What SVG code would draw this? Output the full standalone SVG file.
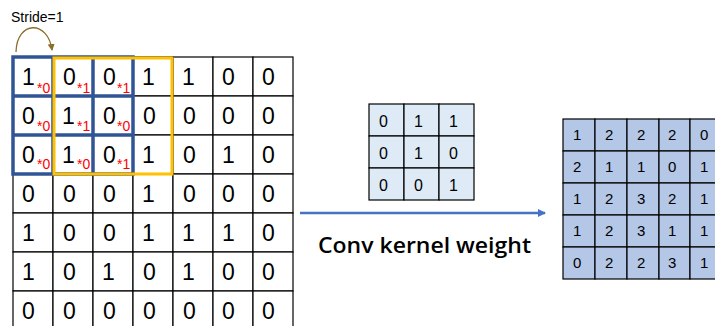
<svg xmlns="http://www.w3.org/2000/svg" width="715" height="326" viewBox="0 0 715 326">
  <style>
    .cell { fill: #ffffff; stroke: #000000; stroke-width: 1.2; }
    .kcell { fill: #deebf7; stroke: #000000; stroke-width: 1.2; }
    .ocell { fill: #b4c7e7; stroke: #000000; stroke-width: 1.2; }
    .big { font-family: "Liberation Sans", Arial, sans-serif; font-size: 23px; fill: #000000; }
    .mid { font-family: "Liberation Sans", Arial, sans-serif; font-size: 16px; fill: #000000; }
    .small { font-family: "Liberation Sans", Arial, sans-serif; font-size: 15px; fill: #000000; }
    .w { font-family: "Liberation Sans", Arial, sans-serif; font-size: 14px; fill: #ff0000; }
    .blue { fill: none; stroke: #2f5597; stroke-width: 3.5; }
    .gold { fill: none; stroke: #ffc000; stroke-width: 3; }
  </style>
  <defs>
    <marker id="arrow" markerWidth="8" markerHeight="8" refX="7" refY="4" orient="auto" markerUnits="userSpaceOnUse">
      <path d="M0,0 L8,4 L0,8 Z" fill="#4472c4"/>
    </marker>
    <marker id="arcHead" markerWidth="7" markerHeight="7" refX="6" refY="3.5" orient="auto" markerUnits="userSpaceOnUse">
      <path d="M0,0 L7,3.5 L0,7 Z" fill="#8c6d2c"/>
    </marker>
  </defs>

  <!-- Input feature map 7x7 -->
  <g id="input">
    <g>
      <rect class="cell" x="13" y="57" width="40" height="39"/><rect class="cell" x="53" y="57" width="40" height="39"/><rect class="cell" x="93" y="57" width="40" height="39"/><rect class="cell" x="133" y="57" width="40" height="39"/><rect class="cell" x="173" y="57" width="40" height="39"/><rect class="cell" x="213" y="57" width="40" height="39"/><rect class="cell" x="253" y="57" width="40" height="39"/>
      <rect class="cell" x="13" y="96" width="40" height="39"/><rect class="cell" x="53" y="96" width="40" height="39"/><rect class="cell" x="93" y="96" width="40" height="39"/><rect class="cell" x="133" y="96" width="40" height="39"/><rect class="cell" x="173" y="96" width="40" height="39"/><rect class="cell" x="213" y="96" width="40" height="39"/><rect class="cell" x="253" y="96" width="40" height="39"/>
      <rect class="cell" x="13" y="135" width="40" height="39"/><rect class="cell" x="53" y="135" width="40" height="39"/><rect class="cell" x="93" y="135" width="40" height="39"/><rect class="cell" x="133" y="135" width="40" height="39"/><rect class="cell" x="173" y="135" width="40" height="39"/><rect class="cell" x="213" y="135" width="40" height="39"/><rect class="cell" x="253" y="135" width="40" height="39"/>
      <rect class="cell" x="13" y="174" width="40" height="39"/><rect class="cell" x="53" y="174" width="40" height="39"/><rect class="cell" x="93" y="174" width="40" height="39"/><rect class="cell" x="133" y="174" width="40" height="39"/><rect class="cell" x="173" y="174" width="40" height="39"/><rect class="cell" x="213" y="174" width="40" height="39"/><rect class="cell" x="253" y="174" width="40" height="39"/>
      <rect class="cell" x="13" y="213" width="40" height="39"/><rect class="cell" x="53" y="213" width="40" height="39"/><rect class="cell" x="93" y="213" width="40" height="39"/><rect class="cell" x="133" y="213" width="40" height="39"/><rect class="cell" x="173" y="213" width="40" height="39"/><rect class="cell" x="213" y="213" width="40" height="39"/><rect class="cell" x="253" y="213" width="40" height="39"/>
      <rect class="cell" x="13" y="252" width="40" height="39"/><rect class="cell" x="53" y="252" width="40" height="39"/><rect class="cell" x="93" y="252" width="40" height="39"/><rect class="cell" x="133" y="252" width="40" height="39"/><rect class="cell" x="173" y="252" width="40" height="39"/><rect class="cell" x="213" y="252" width="40" height="39"/><rect class="cell" x="253" y="252" width="40" height="39"/>
      <rect class="cell" x="13" y="291" width="40" height="39"/><rect class="cell" x="53" y="291" width="40" height="39"/><rect class="cell" x="93" y="291" width="40" height="39"/><rect class="cell" x="133" y="291" width="40" height="39"/><rect class="cell" x="173" y="291" width="40" height="39"/><rect class="cell" x="213" y="291" width="40" height="39"/><rect class="cell" x="253" y="291" width="40" height="39"/>
    </g>
    <!-- values -->
    <g class="big">
      <text x="22" y="85">1</text><text x="63" y="85">0</text><text x="103" y="85">0</text><text x="142" y="85">1</text><text x="182" y="85">1</text><text x="222" y="85">0</text><text x="262" y="85">0</text>
      <text x="22" y="124">0</text><text x="62" y="124">1</text><text x="103" y="124">0</text><text x="143" y="124">0</text><text x="183" y="124">0</text><text x="222" y="124">0</text><text x="262" y="124">0</text>
      <text x="22" y="163">0</text><text x="62" y="163">1</text><text x="103" y="163">0</text><text x="142" y="163">1</text><text x="183" y="163">0</text><text x="222" y="163">1</text><text x="262" y="163">0</text>
      <text x="22" y="202">0</text><text x="63" y="202">0</text><text x="103" y="202">0</text><text x="142" y="202">1</text><text x="183" y="202">0</text><text x="222" y="202">0</text><text x="262" y="202">0</text>
      <text x="22" y="241">1</text><text x="63" y="241">0</text><text x="103" y="241">0</text><text x="142" y="241">1</text><text x="182" y="241">1</text><text x="222" y="241">1</text><text x="262" y="241">0</text>
      <text x="22" y="280">1</text><text x="63" y="280">0</text><text x="102" y="280">1</text><text x="143" y="280">0</text><text x="182" y="280">1</text><text x="222" y="280">0</text><text x="262" y="280">0</text>
      <text x="22" y="319">0</text><text x="63" y="319">0</text><text x="103" y="319">0</text><text x="143" y="319">0</text><text x="183" y="319">0</text><text x="222" y="319">0</text><text x="262" y="319">0</text>
    </g>
    <!-- kernel weights applied at the current window -->
    <g class="w">
      <text x="37" y="93">*0</text><text x="77" y="93">*1</text><text x="117" y="93">*1</text>
      <text x="37" y="131">*0</text><text x="77" y="131">*1</text><text x="117" y="131">*0</text>
      <text x="37" y="169">*0</text><text x="77" y="169">*0</text><text x="117" y="169">*1</text>
    </g>
  </g>

  <!-- Current 3x3 window -->
  <g id="window-current">
    <rect class="blue" x="13" y="57" width="120" height="117"/>
    <path class="blue" d="M53,57 V174 M93,57 V174 M13,96 H133 M13,135 H133"/>
  </g>

  <!-- Next window after one step -->
  <g id="window-next">
    <rect class="gold" x="54" y="58" width="118" height="116"/>
  </g>

  <!-- Stride label -->
  <g id="stride">
    <text x="11" y="22" font-family="Liberation Sans, Arial, sans-serif" font-size="14" fill="#000000">Stride=1</text>
  </g>

  <!-- Kernel 3x3 -->
  <g id="kernel">
    <rect class="kcell" x="369" y="104" width="35" height="32"/><rect class="kcell" x="404" y="104" width="35" height="32"/><rect class="kcell" x="439" y="104" width="35" height="32"/>
    <rect class="kcell" x="369" y="136" width="35" height="32"/><rect class="kcell" x="404" y="136" width="35" height="32"/><rect class="kcell" x="439" y="136" width="35" height="32"/>
    <rect class="kcell" x="369" y="168" width="35" height="32"/><rect class="kcell" x="404" y="168" width="35" height="32"/><rect class="kcell" x="439" y="168" width="35" height="32"/>
    <g class="mid">
      <text x="379" y="127">0</text><text x="414" y="127">1</text><text x="449" y="127">1</text>
      <text x="379" y="159">0</text><text x="414" y="159">1</text><text x="449" y="159">0</text>
      <text x="379" y="191">0</text><text x="414" y="191">0</text><text x="449" y="191">1</text>
    </g>
  </g>

  <!-- Caption -->
  <g id="caption">
    <text x="318" y="253" font-family="Open Sans, Liberation Sans, sans-serif" font-size="22" font-weight="600" fill="#000000" textLength="213" lengthAdjust="spacingAndGlyphs">Conv kernel weight</text>
  </g>

  <!-- Output feature map 5x5 -->
  <g id="output">
    <rect class="ocell" x="563" y="119" width="32" height="32"/><rect class="ocell" x="595" y="119" width="32" height="32"/><rect class="ocell" x="627" y="119" width="32" height="32"/><rect class="ocell" x="659" y="119" width="31" height="32"/><rect class="ocell" x="690" y="119" width="32" height="32"/>
    <rect class="ocell" x="563" y="151" width="32" height="32"/><rect class="ocell" x="595" y="151" width="32" height="32"/><rect class="ocell" x="627" y="151" width="32" height="32"/><rect class="ocell" x="659" y="151" width="31" height="32"/><rect class="ocell" x="690" y="151" width="32" height="32"/>
    <rect class="ocell" x="563" y="183" width="32" height="32"/><rect class="ocell" x="595" y="183" width="32" height="32"/><rect class="ocell" x="627" y="183" width="32" height="32"/><rect class="ocell" x="659" y="183" width="31" height="32"/><rect class="ocell" x="690" y="183" width="32" height="32"/>
    <rect class="ocell" x="563" y="215" width="32" height="32"/><rect class="ocell" x="595" y="215" width="32" height="32"/><rect class="ocell" x="627" y="215" width="32" height="32"/><rect class="ocell" x="659" y="215" width="31" height="32"/><rect class="ocell" x="690" y="215" width="32" height="32"/>
    <rect class="ocell" x="563" y="247" width="32" height="32"/><rect class="ocell" x="595" y="247" width="32" height="32"/><rect class="ocell" x="627" y="247" width="32" height="32"/><rect class="ocell" x="659" y="247" width="31" height="32"/><rect class="ocell" x="690" y="247" width="32" height="32"/>
    <g class="small">
      <text x="573" y="140">1</text><text x="605" y="140">2</text><text x="637" y="140">2</text><text x="668" y="140">2</text><text x="700" y="140">0</text>
      <text x="573" y="172">2</text><text x="605" y="172">1</text><text x="637" y="172">1</text><text x="668" y="172">0</text><text x="700" y="172">1</text>
      <text x="573" y="204">1</text><text x="605" y="204">2</text><text x="637" y="204">3</text><text x="668" y="204">2</text><text x="700" y="204">1</text>
      <text x="573" y="236">1</text><text x="605" y="236">2</text><text x="637" y="236">3</text><text x="668" y="236">1</text><text x="700" y="236">1</text>
      <text x="573" y="268">0</text><text x="605" y="268">2</text><text x="637" y="268">2</text><text x="668" y="268">3</text><text x="700" y="268">1</text>
    </g>
  </g>

  <!-- Connectors -->
  <g id="connectors">
    <line x1="300" y1="213" x2="545" y2="213" stroke="#4472c4" stroke-width="2.5" marker-end="url(#arrow)"/>
    <path d="M16,52 C17,20 48,20 52,50" fill="none" stroke="#8c6d2c" stroke-width="1.3" marker-end="url(#arcHead)"/>
  </g>
</svg>
